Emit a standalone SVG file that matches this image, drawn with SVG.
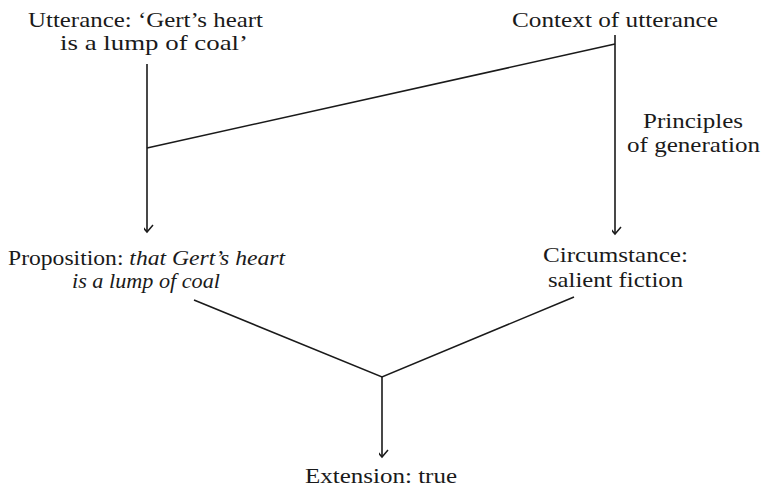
<svg xmlns="http://www.w3.org/2000/svg" width="765" height="487" viewBox="0 0 765 487">
<style>
text{font-family:"Liberation Serif","DejaVu Serif",serif;font-size:22px;fill:#1a1a1a;text-anchor:middle}
.i{font-style:italic}
.c{stroke:#1a1a1a;stroke-width:1.6;fill:none}
</style>
<defs>
<marker id="ah" markerUnits="userSpaceOnUse" markerWidth="16" markerHeight="12" viewBox="-8 -9 16 12" refX="0" refY="0" orient="auto-start-reverse">
<polyline points="-6,-7 0,0 6,-7" fill="none" stroke="#1a1a1a" stroke-width="1.5" transform="rotate(-90)"/>
</marker>
</defs>
<rect width="765" height="487" fill="#fff"/>
<g id="connectors">
<line class="c" x1="147" y1="64" x2="147" y2="232" marker-end="url(#ah)"/>
<line class="c" x1="147" y1="148" x2="615" y2="44"/>
<line class="c" x1="615" y1="35" x2="615" y2="234" marker-end="url(#ah)"/>
<polyline class="c" points="194,300 382,377 574,297"/>
<line class="c" x1="382" y1="377" x2="382" y2="457" marker-end="url(#ah)"/>
</g>
<g id="utterance">
<text x="145.5" y="27" textLength="235" lengthAdjust="spacingAndGlyphs">Utterance: ‘Gert’s heart</text>
<text x="154" y="50" textLength="188" lengthAdjust="spacingAndGlyphs">is a lump of coal’</text>
</g>
<g id="context">
<text x="615" y="27" textLength="206" lengthAdjust="spacingAndGlyphs">Context of utterance</text>
</g>
<g id="principles">
<text x="693" y="128" textLength="100" lengthAdjust="spacingAndGlyphs">Principles</text>
<text x="693.5" y="152" textLength="133" lengthAdjust="spacingAndGlyphs">of generation</text>
</g>
<g id="proposition">
<text x="146.5" y="265" textLength="277" lengthAdjust="spacingAndGlyphs">Proposition: <tspan class="i">that Gert’s heart</tspan></text>
<text x="146" y="288" class="i" textLength="148" lengthAdjust="spacingAndGlyphs">is a lump of coal</text>
</g>
<g id="circumstance">
<text x="615.5" y="262" textLength="145" lengthAdjust="spacingAndGlyphs">Circumstance:</text>
<text x="615.5" y="287" textLength="135" lengthAdjust="spacingAndGlyphs">salient fiction</text>
</g>
<g id="extension">
<text x="381" y="483" textLength="152" lengthAdjust="spacingAndGlyphs">Extension: true</text>
</g>
</svg>
